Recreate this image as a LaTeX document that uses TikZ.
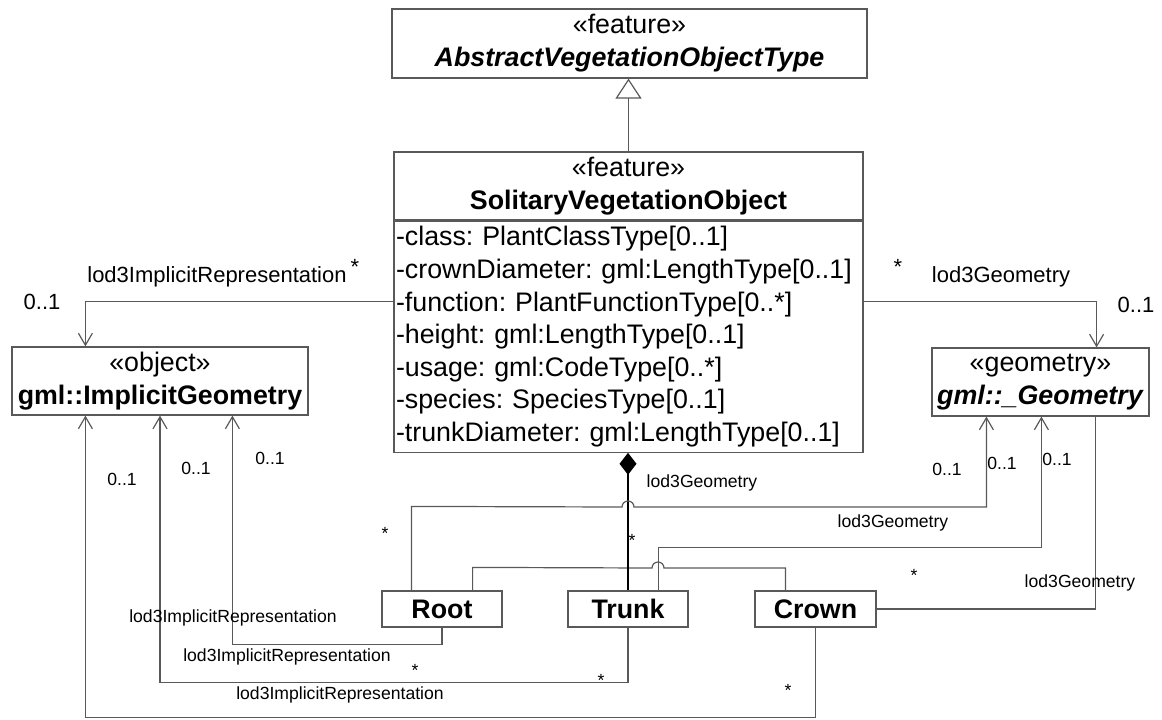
\documentclass[tikz,border=0pt]{standalone}
\usepackage{fontspec}
\setmainfont{Liberation Sans}
\usetikzlibrary{arrows.meta}
\definecolor{umlgray}{gray}{0.35}
\frenchspacing

\begin{document}
\begin{tikzpicture}[x=0.5pt,y=-0.5pt,
    box/.style={draw=umlgray,line width=0.6pt,inner sep=0pt,align=center,font=\fontsize{13.4}{16.5}\selectfont},
    assoc/.style={draw=umlgray,line width=0.6pt},
    nav/.style={assoc,-{Straight Barb[length=6pt,width=7pt]}},
    bigtag/.style={font=\fontsize{11}{13}\selectfont,inner sep=0pt},
    tag/.style={font=\fontsize{8.8}{10}\selectfont,inner sep=0pt}]
\useasboundingbox (0,0) rectangle (1162,719);

\node[box,minimum width=237.5pt,minimum height=34.5pt] (abs) at (629.5,43.5) {«feature»\\\textbf{\textit{AbstractVegetationObjectType}}};
\node[box,minimum width=234.5pt,minimum height=34pt] (svohead) at (628.5,186) {«feature»\\\textbf{SolitaryVegetationObject}};
\node[box,anchor=north,minimum width=234.5pt,minimum height=115.5pt,inner xsep=1pt,text width=232.5pt,align=left,font=\fontsize{13.4}{16.3}\selectfont] (svoattr) at (svohead.south) {-class: PlantClassType[0..1]\\-crownDiameter: gml:LengthType[0..1]\\-function: PlantFunctionType[0..*]\\-height: gml:LengthType[0..1]\\-usage: gml:CodeType[0..*]\\-species: SpeciesType[0..1]\\-trunkDiameter: gml:LengthType[0..1]};
\node[box,minimum width=148pt,minimum height=34pt] (impl) at (160,381) {«object»\\\textbf{gml::ImplicitGeometry}};
\node[box,minimum width=108.5pt,minimum height=34pt] (geom) at (1040.5,382) {«geometry»\\\textbf{\textit{gml::\_Geometry}}};
\node[box,minimum width=60pt,minimum height=18pt] (root) at (442,609) {\textbf{Root}};
\node[box,minimum width=60pt,minimum height=18pt] (trunk) at (628,609) {\textbf{Trunk}};
\node[box,minimum width=60.5pt,minimum height=18pt] (crown) at (815.5,609) {\textbf{Crown}};

\draw[assoc,-{Triangle[open,length=10pt,width=13pt]}] (svohead.north) -- (svohead.north |- abs.south);
\draw[nav] ([yshift=-40.5pt]svoattr.north west) -| ([xshift=37pt]impl.north west);
\draw[nav] ([yshift=-40.5pt]svoattr.north east) -| ([xshift=-26.5pt]geom.north east);

\draw[assoc] ([xshift=-15pt]root.north east) -- ++(0,-23) -- (652,568) arc[start angle=180,end angle=0,radius=3pt] -| ([xshift=15.5pt]crown.north west);
\draw[draw=black,line width=1.2pt,-{Diamond[length=11pt,width=8.5pt,fill=black]}] (trunk.north) -- (trunk.north |- svoattr.south);

\draw[nav] ([xshift=15pt]root.north west) -- ++(0,-84) -- (622,507) arc[start angle=180,end angle=0,radius=3pt] -| ([xshift=27.5pt]geom.south west);
\draw[nav] ([xshift=-15pt]trunk.north east) -- ++(0,-43) -| ([xshift=55pt]geom.south west);
\draw[assoc] (crown.east) -| ([xshift=-27pt]geom.south east);

\draw[nav] (root.south) -- ++(0,17) -| ([xshift=110.5pt]impl.south west);
\draw[nav] (trunk.south) -- ++(0,55) -| (impl.south);
\draw[nav] (crown.south) -- ++(0,90) -| ([xshift=37pt]impl.south west);

\node[bigtag] (implname) at (217,277) {lod3ImplicitRepresentation};
\node[bigtag] (implmany) at (355,267) {*};
\node[bigtag] (implone) at (42,302) {0..1};
\node[bigtag] (geommany) at (898,267) {*};
\node[bigtag] (geomname) at (1001,277) {lod3Geometry};
\node[bigtag] (geomone) at (1136,305) {0..1};

\node[tag] (rootgname) at (702,483) {lod3Geometry};
\node[tag] (rootgmany) at (385,533) {*};
\node[tag] (rootgone) at (947,469) {0..1};
\node[tag] (compmany) at (632,540) {*};
\node[tag] (trunkgname) at (893,523) {lod3Geometry};
\node[tag] (trunkgone) at (1002,463) {0..1};
\node[tag] (crowngmany) at (914,575) {*};
\node[tag] (crowngname) at (1080,583) {lod3Geometry};
\node[tag] (crowngone) at (1057,459) {0..1};

\node[tag] (crownione) at (122,479) {0..1};
\node[tag] (trunkione) at (196,468) {0..1};
\node[tag] (rootione) at (270,458) {0..1};
\node[tag] (rootiname) at (233,618) {lod3ImplicitRepresentation};
\node[tag] (trunkiname) at (287,657) {lod3ImplicitRepresentation};
\node[tag] (crowniname) at (340,695) {lod3ImplicitRepresentation};
\node[tag] (rootimany) at (415,670) {*};
\node[tag] (trunkimany) at (601,680) {*};
\node[tag] (crownimany) at (788,690) {*};
\end{tikzpicture}
\end{document}
